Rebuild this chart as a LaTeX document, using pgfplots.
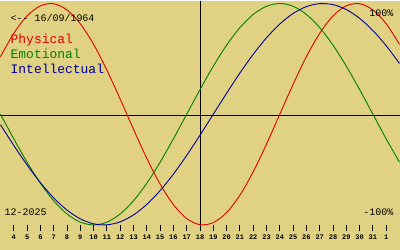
\documentclass[border=0pt]{standalone}
\usepackage{pgfplots}
\pgfplotsset{compat=1.18}
\usepackage{fontspec}
\setmainfont{Liberation Mono}
\definecolor{bgcol}{RGB}{224,210,130}
\definecolor{cphys}{RGB}{225,0,0}
\definecolor{cemo}{RGB}{0,128,0}
\definecolor{cint}{RGB}{0,0,150}
\begin{document}
\begin{tikzpicture}
\begin{axis}[
  scale only axis, width=400pt, height=250pt,
  xmin=3, xmax=33, ymin=-1.2252, ymax=1.0270,
  axis lines=none, xtick=\empty, ytick=\empty,
  axis background/.style={fill=bgcol},
  clip=false,
]
% axes lines
\draw[black, line width=1pt] (axis cs:3,-0.009) -- (axis cs:33,-0.009);
\draw[black, line width=1pt] (axis cs:18,1.027) -- (axis cs:18,-1.0);
\pgfplotsinvokeforeach{4,...,32}{
  \draw[black, line width=1pt] (axis cs:#1,-1.0) -- (axis cs:#1,-1.054);
}
\pgfplotsinvokeforeach{4,...,31}{
  \node[anchor=base, inner sep=0pt, font=\fontsize{7}{8}\selectfont\bfseries] at (axis cs:#1,-1.135) {#1};
}
\node[anchor=base, inner sep=0pt, font=\fontsize{7}{8}\selectfont\bfseries] at (axis cs:32,-1.135) {1};
% Physical
\addplot[cphys, line width=0.9pt, smooth] coordinates {
(3,0.520)(4,0.731)(5,0.888)(6,0.979)(7,0.998)(8,0.942)(9,0.817)(10,0.631)(11,0.398)(12,0.136)
(13,-0.136)(14,-0.398)(15,-0.631)(16,-0.817)(17,-0.942)(18,-0.998)(19,-0.979)(20,-0.888)(21,-0.731)(22,-0.520)
(23,-0.270)(24,0)(25,0.270)(26,0.520)(27,0.731)(28,0.888)(29,0.979)(30,0.998)(31,0.942)(32,0.817)(33,0.631)
};
% Emotional
\addplot[cemo, line width=0.9pt, smooth] coordinates {
(3,0)(4,-0.2225)(5,-0.4339)(6,-0.6235)(7,-0.7818)(8,-0.9010)(9,-0.9749)(10,-1)(11,-0.9749)(12,-0.9010)
(13,-0.7818)(14,-0.6235)(15,-0.4339)(16,-0.2225)(17,0)(18,0.2225)(19,0.4339)(20,0.6235)(21,0.7818)(22,0.9010)
(23,0.9749)(24,1)(25,0.9749)(26,0.9010)(27,0.7818)(28,0.6235)(29,0.4339)(30,0.2225)(31,0)(32,-0.2225)(33,-0.4339)
};
% Intellectual
\addplot[cint, line width=0.9pt, smooth] coordinates {
(3,-0.0951)(4,-0.2817)(5,-0.4582)(6,-0.6182)(7,-0.7557)(8,-0.8660)(9,-0.9450)(10,-0.9898)(11,-0.9989)(12,-0.9718)
(13,-0.9096)(14,-0.8146)(15,-0.6901)(16,-0.5406)(17,-0.3717)(18,-0.1893)(19,0)(20,0.1893)(21,0.3717)(22,0.5406)
(23,0.6901)(24,0.8146)(25,0.9096)(26,0.9718)(27,0.9989)(28,0.9898)(29,0.9450)(30,0.8660)(31,0.7557)(32,0.6182)(33,0.4582)
};
% texts
\node[anchor=base west, inner sep=0pt, font=\fontsize{10}{12}\selectfont] at (axis cs:3.75,0.838) {<-{}- 16/09/1964};
\node[anchor=base west, inner sep=0pt, text=cphys, font=\fontsize{13}{15}\selectfont] at (axis cs:3.75,0.640) {Physical};
\node[anchor=base west, inner sep=0pt, text=cemo, font=\fontsize{13}{15}\selectfont] at (axis cs:3.75,0.505) {Emotional};
\node[anchor=base west, inner sep=0pt, text=cint, font=\fontsize{13}{15}\selectfont] at (axis cs:3.75,0.369) {Intellectual};
\node[anchor=base east, inner sep=0pt, font=\fontsize{10}{12}\selectfont] at (axis cs:32.55,0.883) {100\%};
\node[anchor=base east, inner sep=0pt, font=\fontsize{10}{12}\selectfont] at (axis cs:32.55,-0.919) {-100\%};
\node[anchor=base west, inner sep=0pt, font=\fontsize{10}{12}\selectfont] at (axis cs:3.3,-0.919) {12-2025};
\end{axis}
\end{tikzpicture}
\end{document}
